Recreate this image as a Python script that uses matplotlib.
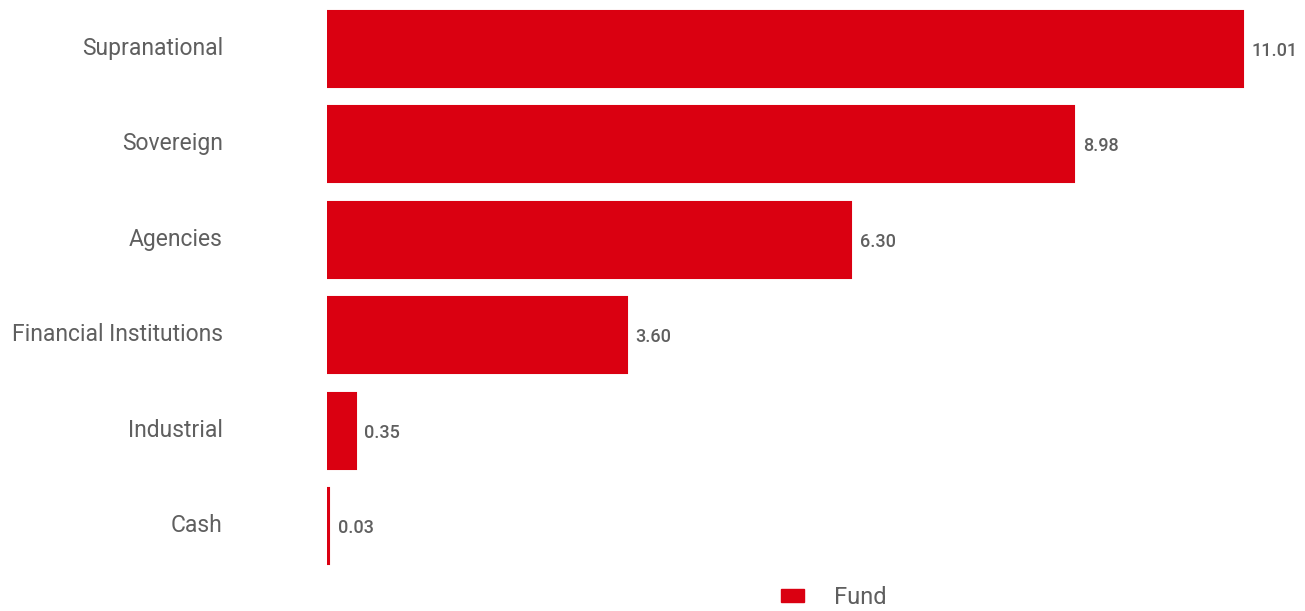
import matplotlib.pyplot as plt
import matplotlib.patches as mpatches
from matplotlib.transforms import ScaledTranslation

categories = ['Supranational', 'Sovereign', 'Agencies', 'Financial Institutions', 'Industrial', 'Cash']
fund = [11.01, 8.98, 6.30, 3.60, 0.35, 0.03]
value_labels = ['11.01', '8.98', '6.30', '3.60', '0.35', '0.03']

red = '#DA0011'
grey = '#5f5f5f'

plt.rcParams['font.family'] = ['Roboto', 'DejaVu Sans']

fig = plt.figure(figsize=(13.05, 6.11), dpi=100)
ax = fig.add_axes([327 / 1305, 1 - 574 / 611, 1 - 327 / 1305, 573 / 611])

pos = list(range(len(categories)))
ax.barh(pos, fund, height=0.8, color=red, edgecolor=red, linewidth=1.5)
for p, v, lab in zip(pos, fund, value_labels):
    ax.text(v + 0.1, p + 0.02, lab, va='center', ha='left', fontsize=13,
            color=grey, fontweight='medium')

ax.set_ylim(len(categories) - 0.5, -0.5)
ax.set_xlim(0, 11.75)
ax.set_yticks(pos)
ax.set_yticklabels(categories, fontsize=16.5, color=grey)
ax.tick_params(axis='y', length=0, pad=75)
# nudge the category labels up a little
shift = ScaledTranslation(0, 3 / 100, fig.dpi_scale_trans)
for t in ax.get_yticklabels():
    t.set_transform(t.get_transform() + shift)
ax.set_xticks([])
for s in ax.spines.values():
    s.set_visible(False)

handle = mpatches.Patch(color=red, label='Fund')
leg = fig.legend(handles=[handle], loc='center left', bbox_to_anchor=(781 / 1305, 1 - 597 / 611),
                 frameon=False, fontsize=17, handlelength=0.97, handleheight=0.47,
                 handletextpad=1.27, borderpad=0, borderaxespad=0)
for t in leg.get_texts():
    t.set_color(grey)

fig.savefig('out.png', dpi=100)
